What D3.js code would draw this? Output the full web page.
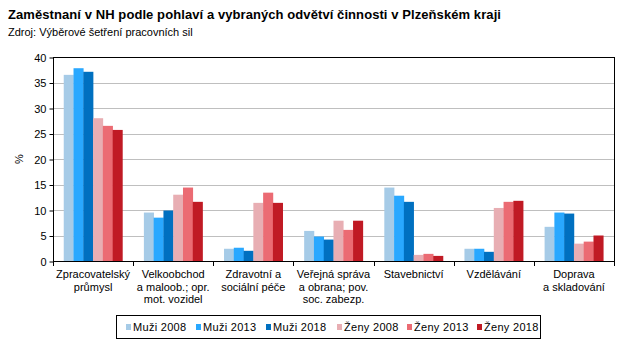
<!DOCTYPE html>
<html>
<head>
<meta charset="utf-8">
<script src="https://cdn.jsdelivr.net/npm/d3@7"></script>
<style>
body { margin: 0; background: #fff; }
text { font-family: "Liberation Sans", Arial, sans-serif; }
</style>
</head>
<body>
<div id="chart"></div>
<script>
let categories = [
    ["Zpracovatelský", "průmysl"],
    ["Velkoobchod", "a maloob.; opr.", "mot. vozidel"],
    ["Zdravotní a", "sociální péče"],
    ["Veřejná správa", "a obrana; pov.", "soc. zabezp."],
    ["Stavebnictví"],
    ["Vzdělávání"],
    ["Doprava", "a skladování"]
]
let seriesNames = ["Muži 2008", "Muži 2013", "Muži 2018", "Ženy 2008", "Ženy 2013", "Ženy 2018"]
let muzi2008 = [36.5, 9.5, 2.4, 5.9, 14.4, 2.4, 6.7]
let muzi2013 = [37.8, 8.5, 2.6, 4.8, 12.8, 2.4, 9.5]
let muzi2018 = [37.1, 9.9, 2.0, 4.2, 11.6, 1.8, 9.3]
let zeny2008 = [28.0, 13.0, 11.4, 7.9, 1.2, 10.4, 3.4]
let zeny2013 = [26.5, 14.4, 13.4, 6.1, 1.4, 11.6, 3.8]
let zeny2018 = [25.7, 11.6, 11.4, 7.9, 1.0, 11.8, 5.0]
let yTicks = [0, 5, 10, 15, 20, 25, 30, 35, 40]
let colors = ["#a6cbe7", "#29a8ff", "#0070c0", "#e8aeb3", "#eb6b73", "#c01a24"]

let series = [muzi2008, muzi2013, muzi2018, zeny2008, zeny2013, zeny2018]

let svg = d3.select("#chart")
    .append("svg")
    .attr("width", 625)
    .attr("height", 363)

svg.append("text")
    .attr("x", 8)
    .attr("y", 19)
    .attr("font-size", 13)
    .attr("font-weight", "bold")
    .attr("letter-spacing", 0.08)
    .text("Zaměstnaní v NH podle pohlaví a vybraných odvětví činnosti v Plzeňském kraji")
svg.append("text")
    .attr("x", 8)
    .attr("y", 36)
    .attr("font-size", 11)
    .text("Zdroj: Výběrové šetření pracovních sil")

let plotLeft = 53, plotRight = 614, plotTop = 57, plotBottom = 261

let x = d3.scaleBand()
    .domain(d3.range(categories.length))
    .range([plotLeft, plotRight])
    .paddingInner(0.268)
    .paddingOuter(0.134)
let x1 = d3.scaleBand()
    .domain(d3.range(series.length))
    .range([0, x.bandwidth()])
let y = d3.scaleLinear()
    .domain([0, 40])
    .range([plotBottom, plotTop])

// gridlines
svg.append("g")
    .selectAll("line")
    .data(yTicks.slice(1, -1))
    .join("line")
    .attr("x1", plotLeft)
    .attr("x2", plotRight)
    .attr("y1", d => Math.round(y(d)) + 0.5)
    .attr("y2", d => Math.round(y(d)) + 0.5)
    .attr("stroke", "#bfbfbf")
    .attr("stroke-width", 1)

// bars
series.forEach((values, s) => {
    svg.append("g")
        .selectAll("rect")
        .data(values)
        .join("rect")
        .attr("x", (d, i) => x(i) + x1(s))
        .attr("y", d => y(d))
        .attr("width", x1.bandwidth() + 0.3)
        .attr("height", d => y(0) - y(d))
        .attr("fill", colors[s])
})

// frame
svg.append("rect")
    .attr("x", plotLeft + 0.5)
    .attr("y", plotTop + 0.5)
    .attr("width", plotRight - plotLeft)
    .attr("height", plotBottom - plotTop)
    .attr("fill", "none")
    .attr("stroke", "#000")

// y axis
let yAxis = d3.axisLeft(y)
    .tickValues(yTicks)
    .tickSize(4)
    .tickPadding(3)
svg.append("g")
    .attr("transform", "translate(" + (plotLeft + 0.5) + ",0.5)")
    .call(yAxis)
    .call(g => g.selectAll("text").attr("font-size", 11).attr("font-family", null).attr("fill", "#000"))
    .call(g => g.select(".domain").remove())

// x axis ticks at category boundaries
let step = x.step()
svg.append("g")
    .selectAll("line")
    .data(d3.range(categories.length + 1))
    .join("line")
    .attr("x1", i => Math.round(plotLeft + i * step) + 0.5)
    .attr("x2", i => Math.round(plotLeft + i * step) + 0.5)
    .attr("y1", plotBottom)
    .attr("y2", plotBottom + 5)
    .attr("stroke", "#000")

// category labels
svg.append("g")
    .selectAll("text")
    .data(categories)
    .join("text")
    .attr("text-anchor", "middle")
    .attr("font-size", 11)
    .attr("transform", (d, i) => "translate(" + (x(i) + x.bandwidth() / 2) + ",278)")
    .selectAll("tspan")
    .data(d => d)
    .join("tspan")
    .attr("x", 0)
    .attr("y", (d, j) => j * 12.5)
    .text(d => d)

svg.append("text")
    .attr("transform", "translate(23,159) rotate(-90)")
    .attr("text-anchor", "middle")
    .attr("font-size", 11)
    .text("%")

// legend
svg.append("rect")
    .attr("x", 116.5)
    .attr("y", 315.5)
    .attr("width", 424)
    .attr("height", 23)
    .attr("fill", "#fff")
    .attr("stroke", "#000")

let legendX = [126, 196, 266, 337, 407, 477]
let legend = svg.append("g")
    .selectAll("g")
    .data(seriesNames)
    .join("g")
    .attr("transform", (d, i) => "translate(" + legendX[i] + ",327)")
legend.append("rect")
    .attr("x", 0)
    .attr("y", -3)
    .attr("width", 5)
    .attr("height", 6)
    .attr("fill", (d, i) => colors[i])
legend.append("text")
    .attr("x", 7)
    .attr("y", 4)
    .attr("font-size", 11)
    .attr("letter-spacing", 0.3)
    .text(d => d)
</script>
</body>
</html>
